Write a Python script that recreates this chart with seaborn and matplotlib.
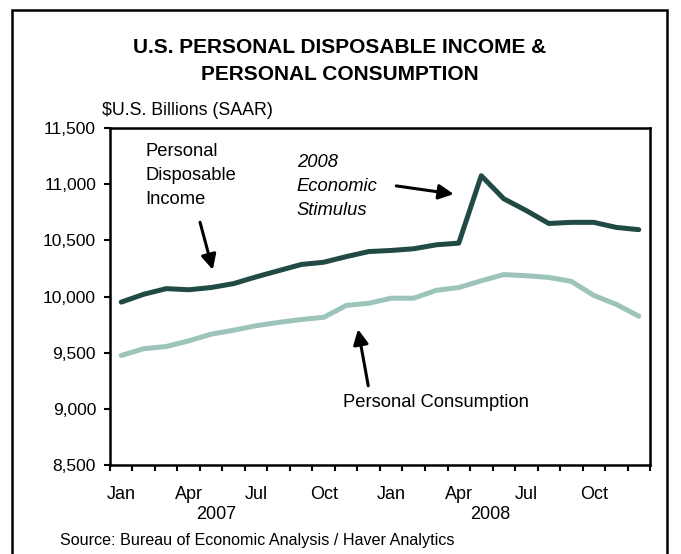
import matplotlib
matplotlib.use("Agg")
import matplotlib.pyplot as plt
from matplotlib.patches import Rectangle
from matplotlib.ticker import FuncFormatter
import seaborn as sns
import pandas as pd

# monthly values, Jan 2007 - Dec 2008
months = ['Jan', 'Feb', 'Mar', 'Apr', 'May', 'Jun', 'Jul', 'Aug', 'Sep', 'Oct', 'Nov', 'Dec'] * 2
income = [9950, 10020, 10070, 10060, 10080, 10115, 10175, 10230, 10285, 10305, 10355, 10400,
          10410, 10425, 10460, 10475, 11075, 10870, 10765, 10650, 10660, 10660, 10615, 10595]
consumption = [9475, 9535, 9555, 9605, 9665, 9700, 9740, 9770, 9795, 9815, 9920, 9940,
               9985, 9985, 10055, 10080, 10140, 10195, 10185, 10170, 10135, 10010, 9930, 9825]
label_months = ['Jan', 'Apr', 'Jul', 'Oct', 'Jan', 'Apr', 'Jul', 'Oct']
years = ['2007', '2008']
yticks = [8500, 9000, 9500, 10000, 10500, 11000, 11500]

df = pd.DataFrame({'t': range(len(income)), 'income': income, 'consumption': consumption})

sns.set_style("white")
plt.rcParams['font.family'] = ['Liberation Sans', 'DejaVu Sans']
plt.rcParams['text.color'] = 'black'
plt.rcParams['xtick.color'] = 'black'
plt.rcParams['ytick.color'] = 'black'

fig = plt.figure(figsize=(6.81, 5.54), dpi=100)
ax = fig.add_axes([0.1615, 0.1606, 0.793, 0.6084])

sns.lineplot(data=df, x='t', y='consumption', ax=ax, color='#9cc4ba', lw=3.6)
sns.lineplot(data=df, x='t', y='income', ax=ax, color='#214a44', lw=3.6)

ax.set_xlim(-0.5, len(income) - 0.5)
ax.set_ylim(8500, 11500)
ax.set_yticks(yticks)
ax.yaxis.set_major_formatter(FuncFormatter(lambda v, p: f'{int(v):,}'))

ax.set_xticks([i for i in range(len(months)) if i % 3 == 0])
ax.set_xticklabels(label_months)
ax.set_xticks([i - 0.5 for i in range(len(months) + 1)], minor=True)
ax.tick_params(axis='x', which='major', length=0, pad=15, labelsize=13)
ax.tick_params(axis='x', which='minor', length=4, width=1.5, direction='out', color='black', bottom=True)
ax.tick_params(axis='y', length=4, width=1.5, direction='out', color='black', left=True, labelsize=12.5, pad=6)
ax.set_xlabel('')
ax.set_ylabel('')
for s in ax.spines.values():
    s.set_color('black')
    s.set_linewidth(1.8)

# year labels
for xpos, yr in zip([4.2, 16.4], years):
    ax.text(xpos, -0.148, yr, transform=ax.get_xaxis_transform(), ha='center', va='center', fontsize=13)

ax.text(-0.015, 1.053, r'\$U.S. Billions (SAAR)', transform=ax.transAxes, ha='left', va='center', fontsize=12.8)

# annotations
arrow = dict(arrowstyle='-|>,head_length=0.9,head_width=0.45', color='black', lw=2.2)
ax.text(1.07, 11365, 'Personal\nDisposable\nIncome', ha='left', va='top', fontsize=13.2, linespacing=1.55)
ax.annotate('', xy=(4.1, 10214), xytext=(3.47, 10685), arrowprops=arrow)
ax.text(7.8, 11272, '2008\nEconomic\nStimulus', ha='left', va='top', fontsize=13.2, style='italic', linespacing=1.55)
ax.annotate('', xy=(14.9, 10908), xytext=(12.1, 10988), arrowprops=arrow)
ax.text(9.87, 9057, 'Personal Consumption', ha='left', va='center', fontsize=13.2)
ax.annotate('', xy=(10.5, 9733), xytext=(11.0, 9181), arrowprops=arrow)

fig.text(0.4993, 0.8905, 'U.S. PERSONAL DISPOSABLE INCOME &\nPERSONAL CONSUMPTION',
         ha='center', va='center', fontsize=15, fontweight='bold', linespacing=1.55)
fig.text(60 / 681, 1 - 541 / 554, 'Source: Bureau of Economic Analysis / Haver Analytics',
         ha='left', va='center', fontsize=11.6)

fig.patches.append(Rectangle((12 / 681, -0.05), 655 / 681, 1.05 - 10 / 554, transform=fig.transFigure,
                             fill=False, edgecolor='black', lw=1.8))

fig.savefig('out.png', dpi=100)
